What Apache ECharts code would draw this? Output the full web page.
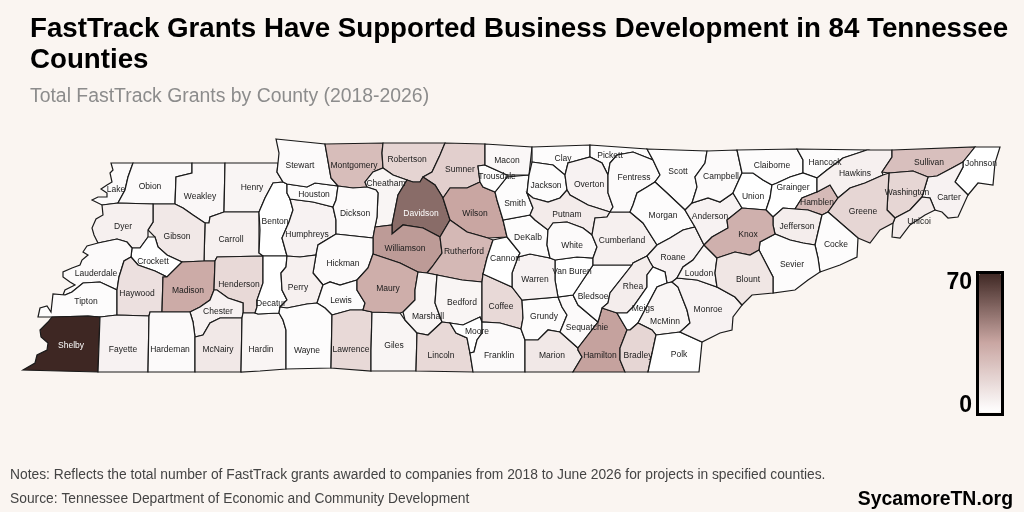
<!DOCTYPE html>
<html>
<head>
<meta charset="utf-8">
<title>FastTrack Grants</title>
<script src="https://cdn.jsdelivr.net/npm/echarts@6/dist/echarts.min.js"></script>
<style>
html, body { margin: 0; padding: 0; background: #faf5f1; }
#chart { width: 1024px; height: 512px; }
</style>
</head>
<body>
<div id="chart"></div>
<script>
"use strict";

var countyNames = ['Lake','Obion','Weakley','Henry','Carroll','Benton','Gibson','Dyer','Crockett','Lauderdale','Tipton','Shelby','Haywood','Madison','Henderson','Chester','Fayette','Hardeman','McNairy','Hardin','Decatur','Humphreys','Houston','Stewart','Montgomery','Robertson','Sumner','Cheatham','Dickson','Davidson','Wilson','Williamson','Rutherford','Hickman','Perry','Lewis','Wayne','Lawrence','Giles','Maury','Marshall','Bedford','Lincoln','Moore','Coffee','Franklin','Grundy','Marion','Sequatchie','Hamilton','Bledsoe','Van Buren','Warren','Cannon','DeKalb','Smith','Trousdale','Macon','Clay','Pickett','Jackson','Overton','Putnam','White','Cumberland','Fentress','Scott','Morgan','Roane','Rhea','Meigs','McMinn','Bradley','Polk','Monroe','Loudon','Anderson','Campbell','Union','Claiborne','Hancock','Grainger','Hamblen','Hawkins','Sullivan','Johnson','Carter','Washington','Unicoi','Greene','Jefferson','Cocke','Sevier','Knox','Blount'];

var grantCounts = [2,2,3,4,6,0,9,6,0,2,1,70,12,33,15,5,5,2,9,4,0,5,1,2,26,17,19,4,2,51,35,38,28,2,6,1,1,15,4,32,4,4,15,0,15,2,1,9,2,36,1,0,5,0,1,1,1,3,1,1,1,5,8,2,6,2,1,1,5,7,0,4,16,0,5,4,5,2,0,1,1,0,27,6,25,0,5,16,8,16,7,1,1,31,10];

var legendTicks = ['70', '0'];

// county outlines, traced in map units
var countyOutlines = {
  'Lake': [[111,163],[113,170],[110,173],[112,182],[107,185],[101,189],[107,193],[107,197],[98,197],[92,200],[102,205],[118,203],[125,190],[128,177],[133,163]],
  'Obion': [[133,163],[192,163],[192,173],[176,177],[175,204],[153,204],[118,203],[125,190],[128,177]],
  'Weakley': [[192,163],[225,163],[224,212],[210,217],[209,223],[205,223],[193,215],[183,208],[175,204],[176,177],[192,173]],
  'Henry': [[225,163],[278,163],[277,172],[283,182],[273,183],[265,198],[259,212],[224,212]],
  'Carroll': [[224,212],[259,212],[259,253],[263,256],[217,257],[215,261],[204,261],[205,223],[209,223],[210,217]],
  'Benton': [[273,183],[283,182],[287,184],[287,193],[290,199],[293,210],[289,222],[282,238],[287,256],[263,256],[259,253],[260,230],[259,212],[265,198]],
  'Gibson': [[153,204],[175,204],[183,208],[193,215],[205,223],[204,261],[182,262],[167,255],[158,247],[155,237],[148,230],[153,222]],
  'Dyer': [[102,205],[118,203],[153,204],[153,222],[148,230],[148,237],[140,248],[132,248],[127,242],[117,239],[98,243],[94,235],[92,228],[96,219],[103,215]],
  'Crockett': [[132,248],[140,248],[148,237],[155,237],[158,247],[167,255],[182,262],[167,277],[155,271],[138,265],[131,257]],
  'Lauderdale': [[98,243],[117,239],[127,242],[132,248],[131,257],[124,261],[119,277],[117,290],[100,282],[83,283],[72,292],[65,295],[63,295],[65,290],[75,285],[70,282],[63,277],[63,272],[72,268],[80,265],[82,260],[88,255],[83,252],[87,246]],
  'Tipton': [[65,295],[72,292],[83,283],[100,282],[117,290],[117,315],[100,317],[88,316],[52,317],[38,317],[40,308],[47,306],[51,312],[52,303],[53,294]],
  'Shelby': [[52,317],[88,316],[100,317],[98,372],[23,370],[35,363],[37,355],[47,350],[48,343],[41,337],[40,330],[48,322]],
  'Haywood': [[131,257],[138,265],[155,271],[167,277],[163,277],[162,312],[150,312],[149,316],[117,315],[117,290],[119,277],[124,261]],
  'Madison': [[182,262],[204,261],[215,261],[214,290],[210,300],[200,307],[190,312],[162,312],[163,277],[167,277]],
  'Henderson': [[217,257],[263,256],[263,283],[257,300],[257,307],[255,313],[243,313],[243,303],[228,298],[217,290],[214,290],[215,261]],
  'Chester': [[190,312],[200,307],[210,300],[214,290],[217,290],[228,298],[243,303],[243,313],[242,318],[220,318],[210,323],[203,335],[195,337],[193,322]],
  'Fayette': [[100,317],[117,315],[149,316],[148,372],[98,372]],
  'Hardeman': [[150,312],[190,312],[193,322],[195,337],[195,372],[148,372],[149,316]],
  'McNairy': [[195,337],[203,335],[210,323],[220,318],[242,318],[241,372],[195,372]],
  'Hardin': [[243,313],[255,313],[258,314],[279,313],[283,320],[286,330],[286,369],[260,371],[241,372],[242,318]],
  'Decatur': [[263,256],[287,256],[286,267],[281,273],[282,290],[287,300],[280,307],[279,313],[258,314],[255,313],[257,307],[257,300],[263,283]],
  'Humphreys': [[290,199],[313,202],[333,207],[336,220],[336,234],[318,245],[316,255],[300,257],[287,256],[282,238],[289,222],[293,210]],
  'Houston': [[287,184],[307,187],[315,183],[338,186],[336,200],[333,207],[313,202],[290,199],[287,193]],
  'Stewart': [[276,139],[325,144],[331,178],[338,186],[315,183],[307,187],[287,184],[283,182],[277,172],[278,163],[279,153]],
  'Montgomery': [[325,144],[383,143],[382,153],[383,168],[373,172],[365,182],[367,187],[353,188],[338,186],[331,178]],
  'Robertson': [[383,143],[445,143],[440,155],[432,172],[423,177],[420,182],[413,182],[407,180],[393,175],[383,168],[382,153]],
  'Sumner': [[445,143],[485,144],[485,165],[478,166],[480,182],[467,188],[450,188],[443,198],[435,185],[423,177],[432,172],[440,155]],
  'Cheatham': [[383,168],[393,175],[407,180],[398,195],[392,225],[375,227],[377,217],[378,193],[376,190],[367,187],[365,182],[373,172]],
  'Dickson': [[338,186],[353,188],[367,187],[376,190],[378,193],[377,217],[375,227],[373,238],[336,234],[336,220],[333,207],[336,200]],
  'Davidson': [[407,180],[413,182],[420,182],[423,177],[435,185],[443,198],[450,220],[440,237],[423,228],[403,225],[392,234],[392,225],[398,195]],
  'Wilson': [[443,198],[450,188],[467,188],[480,182],[483,187],[495,192],[497,200],[503,220],[507,237],[488,238],[467,232],[450,220]],
  'Williamson': [[375,227],[392,225],[392,234],[403,225],[423,228],[440,237],[442,253],[432,267],[427,273],[418,272],[400,263],[373,254],[373,238]],
  'Rutherford': [[450,220],[467,232],[488,238],[493,240],[487,258],[483,274],[482,282],[462,280],[437,275],[427,273],[432,267],[442,253],[440,237]],
  'Hickman': [[336,234],[373,238],[373,254],[368,268],[357,280],[340,285],[330,282],[323,285],[313,273],[316,255],[318,245]],
  'Perry': [[287,256],[300,257],[316,255],[313,273],[323,285],[318,300],[317,303],[307,304],[287,308],[280,307],[287,300],[282,290],[281,273],[286,267]],
  'Lewis': [[323,285],[330,282],[340,285],[357,280],[357,290],[365,303],[363,310],[350,310],[332,315],[325,308],[317,303],[318,300]],
  'Wayne': [[280,307],[287,308],[307,304],[317,303],[325,308],[332,315],[331,368],[286,369],[286,330],[283,320],[279,313]],
  'Lawrence': [[332,315],[350,310],[363,310],[372,312],[371,350],[371,371],[331,368]],
  'Giles': [[372,312],[400,313],[405,320],[417,333],[416,371],[371,371],[371,350]],
  'Maury': [[373,254],[400,263],[418,272],[415,290],[415,300],[403,312],[400,313],[372,312],[363,310],[365,303],[357,290],[357,280],[368,268]],
  'Marshall': [[418,272],[427,273],[437,275],[435,303],[442,322],[428,335],[417,333],[405,320],[403,312],[415,300],[415,290]],
  'Bedford': [[437,275],[462,280],[482,282],[482,322],[480,317],[463,325],[450,323],[442,322],[435,303]],
  'Lincoln': [[442,322],[450,323],[456,333],[467,338],[470,353],[473,372],[416,371],[417,333],[428,335]],
  'Moore': [[450,323],[463,325],[480,317],[482,322],[482,333],[477,340],[474,352],[470,353],[467,338],[456,333]],
  'Coffee': [[483,274],[512,287],[522,300],[523,318],[521,329],[500,323],[482,322],[482,282]],
  'Franklin': [[482,333],[482,322],[500,323],[521,329],[525,340],[525,372],[473,372],[470,353],[474,352],[477,340]],
  'Grundy': [[522,300],[558,297],[562,307],[567,315],[560,332],[548,330],[538,340],[525,340],[521,329],[523,318]],
  'Marion': [[525,340],[538,340],[548,330],[560,332],[578,348],[578,350],[582,357],[573,372],[525,372]],
  'Sequatchie': [[558,297],[573,295],[578,305],[598,322],[578,348],[560,332],[567,315],[562,307]],
  'Hamilton': [[602,308],[608,310],[617,313],[627,330],[620,348],[620,360],[625,372],[573,372],[582,357],[578,350],[578,348],[598,322]],
  'Bledsoe': [[593,265],[632,265],[610,293],[608,303],[602,308],[598,322],[578,305],[573,295],[583,280]],
  'Van Buren': [[555,260],[577,257],[593,258],[593,265],[583,280],[573,295],[558,297],[555,280]],
  'Warren': [[512,273],[518,257],[530,254],[550,258],[555,260],[555,280],[558,297],[522,300],[512,287]],
  'Cannon': [[493,240],[507,237],[520,253],[518,257],[512,273],[512,287],[483,274],[487,258]],
  'DeKalb': [[503,220],[530,215],[535,220],[548,230],[547,245],[550,258],[530,254],[518,257],[520,253],[507,237]],
  'Smith': [[495,192],[507,177],[529,175],[527,193],[533,208],[530,215],[503,220],[497,200]],
  'Trousdale': [[485,165],[507,175],[507,177],[495,192],[483,187],[480,182],[478,166]],
  'Macon': [[485,144],[532,147],[529,175],[507,175],[485,165]],
  'Clay': [[532,147],[590,145],[590,157],[568,163],[565,175],[553,165],[532,162]],
  'Pickett': [[590,145],[647,149],[653,160],[633,152],[617,155],[610,163],[608,175],[602,163],[590,157]],
  'Jackson': [[532,162],[553,165],[565,175],[567,190],[560,198],[548,202],[533,198],[527,193],[529,175]],
  'Overton': [[568,163],[590,157],[602,163],[608,175],[608,193],[613,207],[610,212],[588,205],[570,195],[567,190],[565,175]],
  'Putnam': [[533,208],[527,193],[533,198],[548,202],[560,198],[567,190],[570,195],[588,205],[610,212],[607,217],[595,218],[592,235],[583,228],[567,222],[553,223],[548,230],[535,220],[530,215]],
  'White': [[548,230],[553,223],[567,222],[583,228],[592,235],[597,247],[593,258],[577,257],[555,260],[550,258],[547,245]],
  'Cumberland': [[595,218],[607,217],[610,212],[630,212],[643,223],[657,245],[647,256],[633,263],[632,265],[593,265],[593,258],[597,247],[592,235]],
  'Fentress': [[610,163],[617,155],[633,152],[653,160],[660,175],[655,182],[647,187],[637,193],[633,205],[630,212],[610,212],[613,207],[608,193],[608,175]],
  'Scott': [[647,149],[707,151],[705,163],[695,177],[697,187],[692,203],[685,210],[667,193],[655,182],[660,175],[653,160]],
  'Morgan': [[655,182],[667,193],[685,210],[695,227],[683,230],[670,238],[657,245],[643,223],[630,212],[633,205],[637,193],[647,187]],
  'Roane': [[657,245],[670,238],[683,230],[695,227],[704,245],[693,260],[683,267],[677,278],[672,282],[667,283],[665,272],[653,267],[650,262],[647,256]],
  'Rhea': [[633,263],[647,256],[650,262],[653,267],[647,275],[647,287],[633,307],[627,313],[617,313],[608,310],[602,308],[608,303],[610,293],[632,265]],
  'Meigs': [[653,267],[665,272],[667,283],[657,287],[638,323],[630,330],[627,330],[617,313],[627,313],[633,307],[647,287],[647,275]],
  'McMinn': [[667,283],[672,282],[678,287],[687,310],[690,323],[680,332],[656,335],[652,330],[638,323],[657,287]],
  'Bradley': [[630,330],[638,323],[652,330],[656,335],[648,372],[625,372],[620,360],[620,348],[627,330]],
  'Polk': [[656,335],[680,332],[702,342],[699,372],[648,372]],
  'Monroe': [[672,282],[677,278],[697,280],[717,287],[735,297],[742,305],[733,317],[732,330],[720,333],[702,342],[680,332],[690,323],[687,310],[678,287]],
  'Loudon': [[704,245],[717,258],[715,273],[717,287],[697,280],[677,278],[683,267],[693,260]],
  'Anderson': [[692,203],[708,198],[720,202],[733,193],[742,208],[727,220],[728,228],[712,237],[704,245],[695,227],[685,210]],
  'Campbell': [[707,151],[737,150],[742,173],[733,193],[720,202],[708,198],[692,203],[697,187],[695,177],[705,163]],
  'Union': [[742,173],[753,173],[763,180],[772,185],[770,198],[766,210],[742,208],[733,193]],
  'Claiborne': [[737,150],[797,149],[803,160],[803,173],[790,177],[777,183],[772,185],[763,180],[753,173],[742,173]],
  'Hancock': [[797,149],[867,150],[843,158],[827,170],[817,178],[803,173],[803,160]],
  'Grainger': [[772,185],[777,183],[790,177],[803,173],[817,178],[817,192],[802,198],[795,209],[783,208],[773,217],[766,210],[770,198]],
  'Hamblen': [[817,192],[830,185],[838,198],[828,212],[822,215],[808,210],[795,209],[802,198]],
  'Hawkins': [[867,150],[892,150],[892,157],[882,172],[883,175],[865,183],[850,188],[838,198],[830,185],[817,192],[817,178],[827,170],[843,158]],
  'Sullivan': [[892,150],[975,147],[963,162],[952,168],[937,176],[928,177],[913,171],[889,173],[882,172],[892,157]],
  'Johnson': [[975,147],[1000,147],[995,163],[993,185],[978,183],[968,195],[955,182],[963,167],[963,162]],
  'Carter': [[928,177],[937,176],[952,168],[963,162],[963,167],[955,182],[968,195],[958,217],[948,218],[942,212],[935,210],[930,198],[922,197]],
  'Washington': [[889,173],[913,171],[928,177],[922,197],[910,210],[895,218],[887,210]],
  'Unicoi': [[922,197],[930,198],[935,210],[925,215],[910,225],[900,238],[892,237],[893,223],[895,218],[910,210]],
  'Greene': [[828,212],[838,198],[850,188],[865,183],[883,175],[889,173],[887,210],[895,218],[893,223],[880,230],[870,243],[858,238]],
  'Jefferson': [[773,217],[783,208],[795,209],[808,210],[822,215],[815,245],[803,243],[790,240],[775,234],[773,225]],
  'Cocke': [[822,215],[828,212],[858,238],[857,257],[840,265],[820,272],[818,258],[815,245]],
  'Sevier': [[760,242],[775,234],[790,240],[803,243],[815,245],[818,258],[820,272],[808,280],[795,290],[773,293],[773,277],[759,250]],
  'Knox': [[704,245],[712,237],[728,228],[727,220],[742,208],[766,210],[773,217],[773,225],[775,234],[760,242],[759,250],[750,255],[735,252],[717,258]],
  'Blount': [[717,258],[735,252],[750,255],[759,250],[773,277],[773,293],[752,295],[742,305],[735,297],[717,287],[715,273]]
};

// where each county name sits
var labelSpots = {
  'Lake':[116,190],'Obion':[150,187],'Weakley':[200,197],'Henry':[252,188],'Carroll':[231,240],'Benton':[275,222],'Gibson':[177,237],'Dyer':[123,227],'Crockett':[153,262],'Lauderdale':[96,274],'Tipton':[86,302],'Shelby':[71,346],'Haywood':[137,294],'Madison':[188,291],'Henderson':[239,285],'Chester':[218,312],'Fayette':[123,350],'Hardeman':[170,350],'McNairy':[218,350],'Hardin':[261,350],'Decatur':[271,304],'Humphreys':[307,235],'Houston':[314,195],'Stewart':[300,166],'Montgomery':[354,166],'Robertson':[407,160],'Sumner':[460,170],'Cheatham':[386,184],'Dickson':[355,214],'Davidson':[421,214],'Wilson':[475,214],'Williamson':[405,249],'Rutherford':[464,252],'Hickman':[343,264],'Perry':[298,288],'Lewis':[341,301],'Wayne':[307,351],'Lawrence':[351,350],'Giles':[394,346],'Maury':[388,289],'Marshall':[428,317],'Bedford':[462,303],'Lincoln':[441,356],'Moore':[477,332],'Coffee':[501,307],'Franklin':[499,356],'Grundy':[544,317],'Marion':[552,356],'Sequatchie':[587,328],'Hamilton':[600,356],'Bledsoe':[593,297],'Van Buren':[572,272],'Warren':[535,280],'Cannon':[505,259],'DeKalb':[528,238],'Smith':[515,204],'Trousdale':[497,177],'Macon':[507,161],'Clay':[563,159],'Pickett':[610,156],'Jackson':[546,186],'Overton':[589,185],'Putnam':[567,215],'White':[572,246],'Cumberland':[622,241],'Fentress':[634,178],'Scott':[678,172],'Morgan':[663,216],'Roane':[673,258],'Rhea':[633,287],'Meigs':[643,309],'McMinn':[665,322],'Bradley':[638,356],'Polk':[679,355],'Monroe':[708,310],'Loudon':[699,274],'Anderson':[710,217],'Campbell':[721,177],'Union':[753,197],'Claiborne':[772,166],'Hancock':[825,163],'Grainger':[793,188],'Hamblen':[817,203],'Hawkins':[855,174],'Sullivan':[929,163],'Johnson':[981,164],'Carter':[949,198],'Washington':[907,193],'Unicoi':[919,222],'Greene':[863,212],'Jefferson':[797,227],'Cocke':[836,245],'Sevier':[792,265],'Knox':[748,235],'Blount':[748,280]
};

var features = [];
var seriesData = [];
for (var i = 0; i < countyNames.length; i++) {
  var name = countyNames[i];
  var ring = countyOutlines[name].concat([countyOutlines[name][0]]);
  features.push({
    type: 'Feature',
    properties: { name: name, cp: labelSpots[name] },
    geometry: { type: 'Polygon', coordinates: [ring] }
  });
  var item = { name: name, value: grantCounts[i] };
  if (name === 'Shelby' || name === 'Davidson') {
    item.label = { color: '#ffffff' };
  }
  seriesData.push(item);
}
echarts.registerMap('tennessee', { type: 'FeatureCollection', features: features });

var chart = echarts.init(document.getElementById('chart'), null, { renderer: 'canvas' });
chart.setOption({
  animation: false,
  backgroundColor: '#faf5f1',
  title: [{
    text: 'FastTrack Grants Have Supported Business Development in 84 Tennessee\nCounties',
    left: 25,
    top: 9,
    textStyle: { fontFamily: 'Liberation Sans', fontSize: 27.7, fontWeight: 'bold', color: '#000000', lineHeight: 31 }
  }, {
    text: 'Total FastTrack Grants by County (2018-2026)',
    left: 25,
    top: 82,
    textStyle: { fontFamily: 'Liberation Sans', fontSize: 19.4, fontWeight: 'normal', color: '#8c8c8c' }
  }],
  visualMap: {
    type: 'continuous',
    min: 0,
    max: 70,
    left: 964,
    top: 258,
    itemWidth: 22,
    itemHeight: 139,
    calculable: false,
    silent: true,
    hoverLink: false,
    text: null,
    inRange: { color: ['#ffffff', '#c9a6a2', '#3e2723'] }
  },
  series: [{
    type: 'map',
    map: 'tennessee',
    projection: {
      project: function(p) { return p; },
      unproject: function(p) { return p; }
    },
    aspectScale: 1,
    left: 23,
    top: 139,
    width: 977,
    height: 233,
    silent: true,
    roam: false,
    selectedMode: false,
    itemStyle: { borderColor: '#1a1a1a', borderWidth: 1.2, areaColor: '#ffffff' },
    label: { show: true, fontFamily: 'Liberation Sans', fontSize: 8.5, color: '#1a1a1a' },
    data: seriesData
  }],
  graphic: [
    { type: 'rect', z: 100, shape: { x: 977.5, y: 272.5, width: 25, height: 142 }, style: { fill: 'none', stroke: '#000000', lineWidth: 3 } },
    { type: 'text', z: 100, x: 972, y: 283, style: { text: legendTicks[0], fill: '#000000', font: 'bold 23px "Liberation Sans"', textAlign: 'right', textVerticalAlign: 'middle' } },
    { type: 'text', z: 100, x: 972, y: 406, style: { text: legendTicks[1], fill: '#000000', font: 'bold 23px "Liberation Sans"', textAlign: 'right', textVerticalAlign: 'middle' } },
    { type: 'text', x: 10, y: 475, style: { text: 'Notes: Reflects the total number of FastTrack grants awarded to companies from 2018 to June 2026 for projects in specified counties.', fill: '#444444', font: '13.8px "Liberation Sans"', textVerticalAlign: 'middle' } },
    { type: 'text', x: 10, y: 499, style: { text: 'Source: Tennessee Department of Economic and Community Development', fill: '#444444', font: '13.8px "Liberation Sans"', textVerticalAlign: 'middle' } },
    { type: 'text', x: 1013, y: 500, style: { text: 'SycamoreTN.org', fill: '#000000', font: 'bold 19.4px "Liberation Sans"', textAlign: 'right', textVerticalAlign: 'middle' } }
  ]
});
</script>
</body>
</html>
